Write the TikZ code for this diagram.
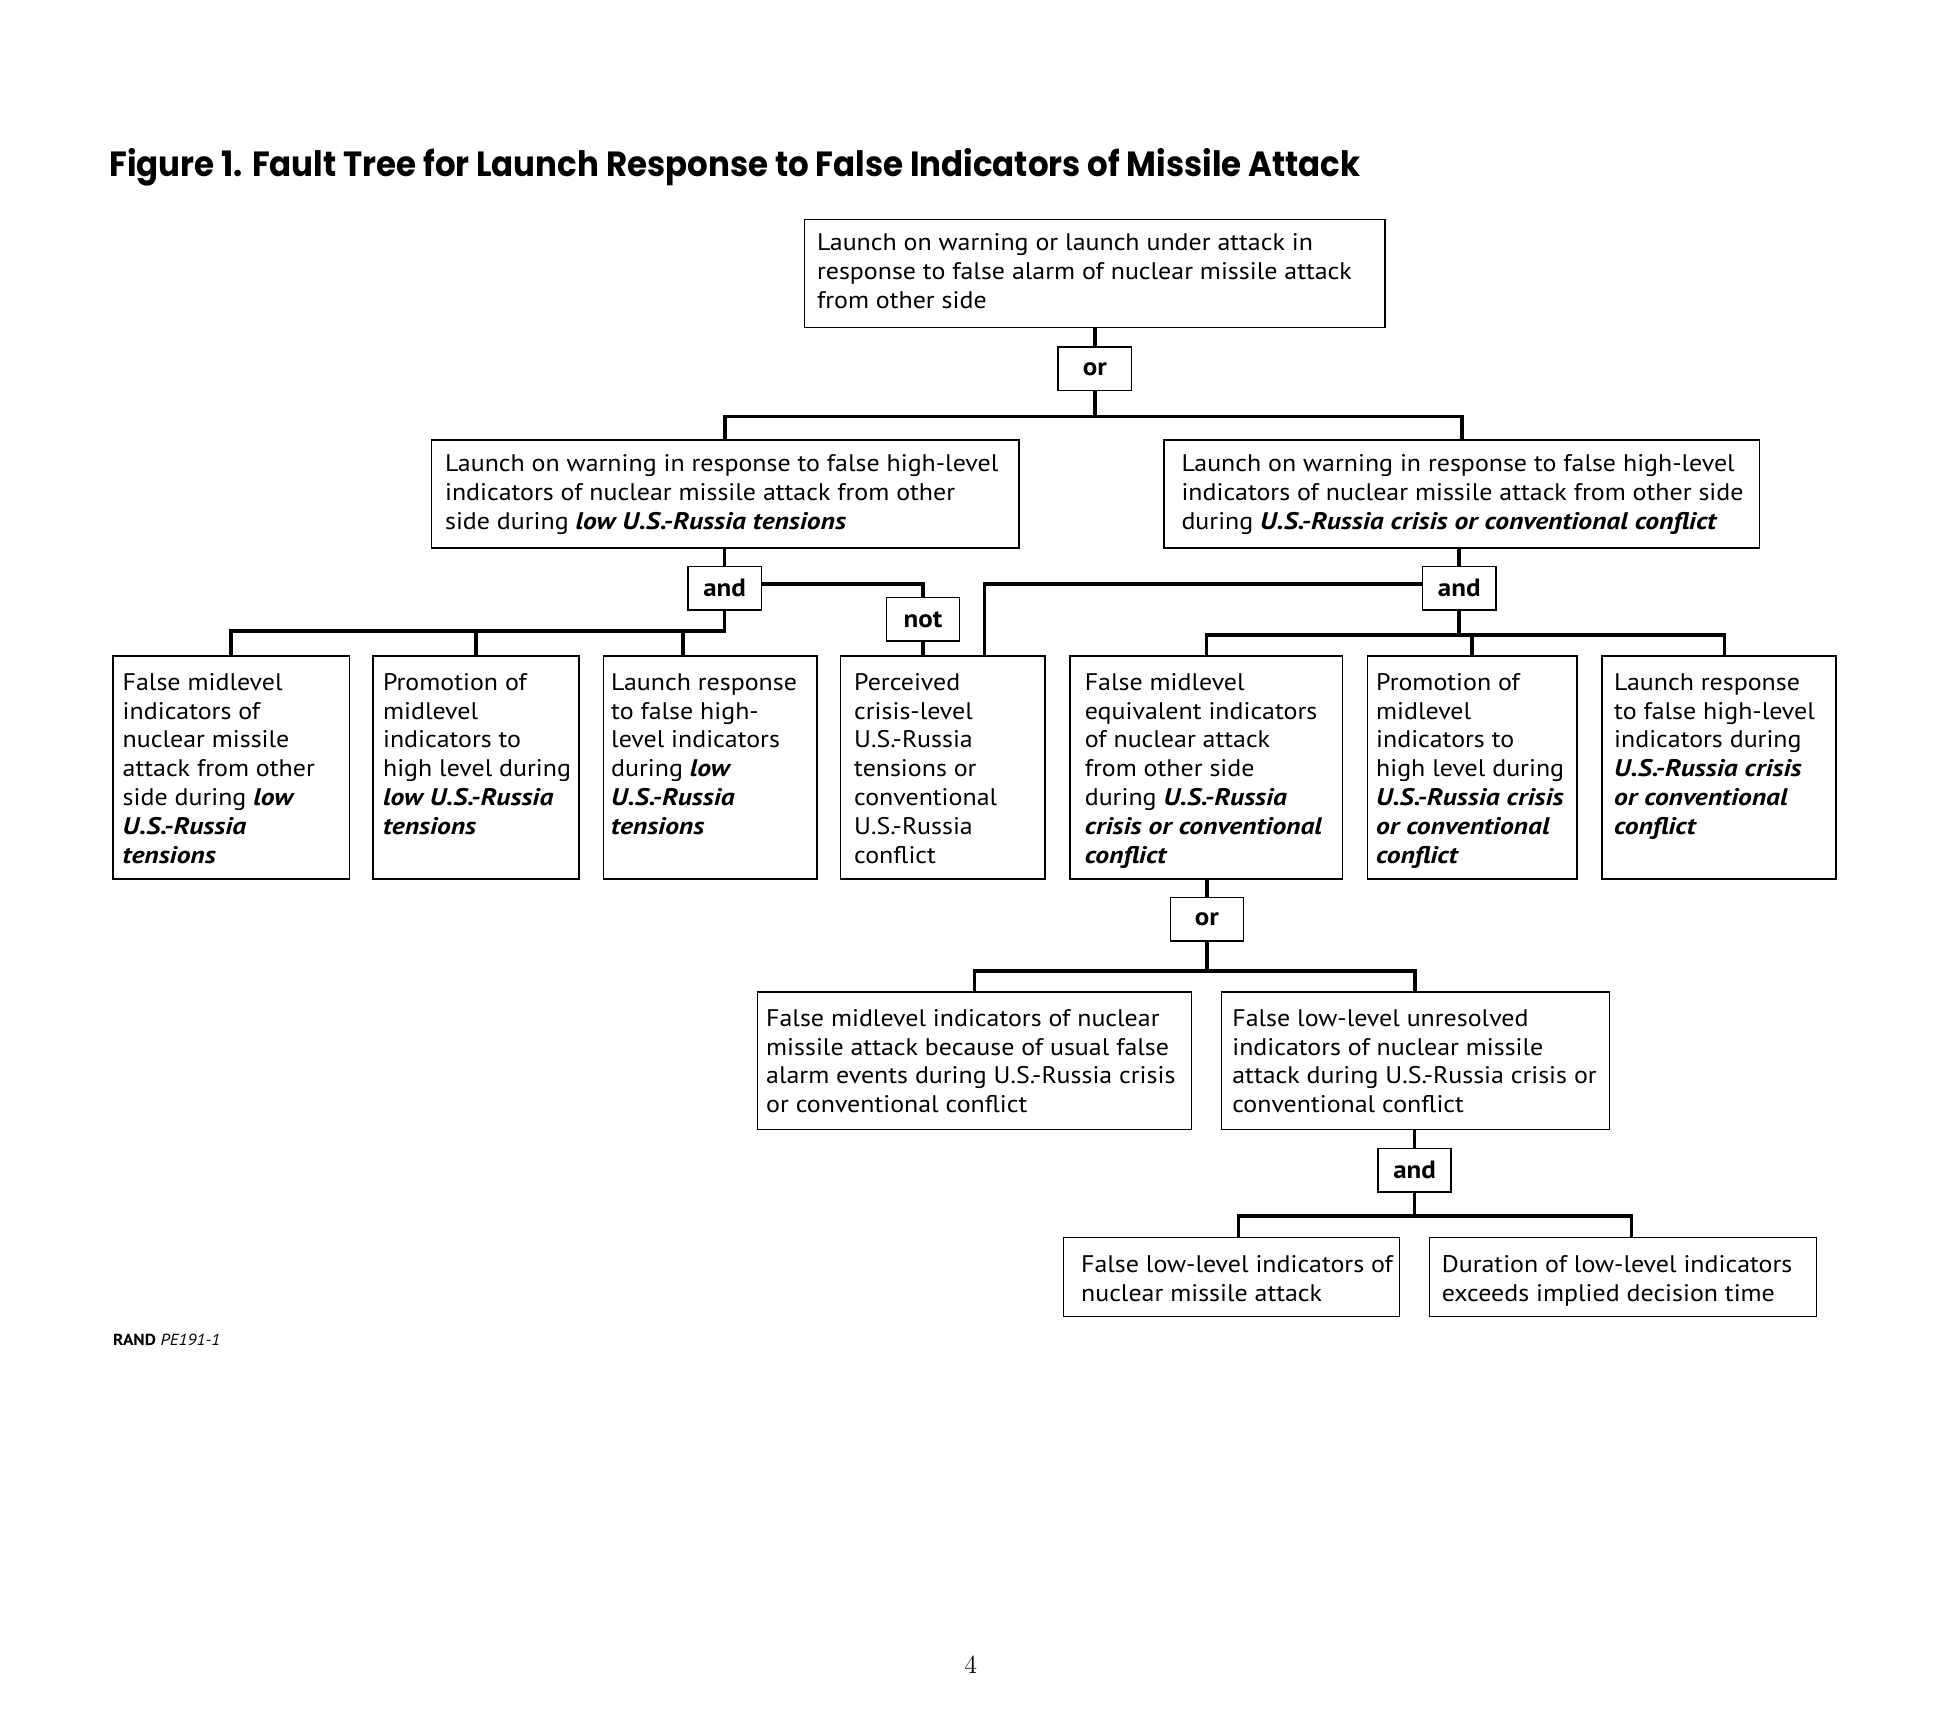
\documentclass[tikz,border=0pt]{standalone}
\usepackage{fontspec}
\usepackage{graphicx}
\usetikzlibrary{calc}
\newfontfamily\boxfont{PT Sans}[FakeStretch=1.08]
\newfontfamily\bifont{PT Sans Bold Italic}[FakeStretch=1.15]
\newfontfamily\titlefont{Poppins}
\newcommand\bi[1]{{\bifont #1}}
\newdimen\fbW \newdimen\fbH \newdimen\fbP \newdimen\fbT
\def\padtop{11.5}
\newcommand\fbx[7][8]{%
  \pgfmathsetlength\fbW{(#5-#3-2*#1)*0.6199pt}%
  \pgfmathsetlength\fbH{(#6-#4-2*\padtop)*0.6199pt}%
  \pgfmathsetlength\fbP{#1*0.6199pt}%
  \pgfmathsetlength\fbT{\padtop*0.6199pt}%
  \node[fbox, inner xsep=\fbP, inner ysep=\fbT, anchor=north west] (#2) at (#3,#4)
    {\parbox[t][\fbH][t]{\fbW}{\begin{tabular}[t]{@{}l@{}}#7\end{tabular}}};}
\begin{document}
\begin{tikzpicture}[x=0.6199pt, y=-0.6199pt,
  fbox/.style={draw, line width=0.7pt, outer sep=0pt,
    font=\boxfont\fontsize{12}{14.4}\selectfont},
  gate/.style={draw, line width=0.7pt, outer sep=0pt, minimum width=36.57pt,
    minimum height=21.7pt, inner sep=0pt,
    font=\boxfont\bfseries\fontsize{12.5}{14}\selectfont},
  conn/.style={line width=1.8pt}]
\useasboundingbox (0,0) rectangle (1568,1394);
\fill[white] (0,0) rectangle (1568,1394);

% title
\node[anchor=base west, inner sep=0pt] (title) at (88,142)
  {\resizebox{625.5pt}{\height}{\titlefont\bfseries\fontsize{17.5}{20}\selectfont Figure 1. Fault Tree for Launch Response to False Indicators of Missile Attack}};

% level 1
\def\padtop{9}
\fbx[10]{top}{649}{177}{1117}{264}{Launch on warning or launch under attack in\\ response to false alarm of nuclear missile attack\\ from other side}
\node[gate] (gor1) at (883,297.5) {or};

% level 2
\fbx[11]{la}{348}{355}{822}{442}{Launch on warning in response to false high-level\\ indicators of nuclear missile attack from other\\ side during \bi{low U.S.-Russia tensions}}
\fbx[14]{lb}{939}{355}{1419}{442}{Launch on warning in response to false high-level\\ indicators of nuclear missile attack from other side\\ during \bi{U.S.-Russia crisis or conventional conflict}}
\node[gate] (gand1) at (584.5,474.5) {and};
\node[gate] (gnot) at (744.5,499.5) {not};
\node[gate] (gand2) at (1177,474.5) {and};

% level 3
\def\padtop{11.5}
\fbx[8]{b1}{91}{529}{282}{709}{False midlevel\\ indicators of\\ nuclear missile\\ attack from other\\ side during \bi{low}\\ \bi{U.S.-Russia}\\ \bi{tensions}}
\fbx[8]{b2}{301}{529}{467}{709}{Promotion of\\ midlevel\\ indicators to\\ high level during\\ \bi{low U.S.-Russia}\\ \bi{tensions}}
\fbx[6]{b3}{487}{529}{659}{709}{Launch response\\ to false high-\\ level indicators\\ during \bi{low}\\ \bi{U.S.-Russia}\\ \bi{tensions}}
\fbx[11]{b4}{678}{529}{843}{709}{Perceived\\ crisis-level\\ U.S.-Russia\\ tensions or\\ conventional\\ U.S.-Russia\\ conflict}
\fbx[12]{b5}{863}{529}{1083}{709}{False midlevel\\ equivalent indicators\\ of nuclear attack\\ from other side\\ during \bi{U.S.-Russia}\\ \bi{crisis or conventional}\\ \bi{conflict}}
\fbx[7]{b6}{1103}{529}{1272}{709}{Promotion of\\ midlevel\\ indicators to\\ high level during\\ \bi{U.S.-Russia crisis}\\ \bi{or conventional}\\ \bi{conflict}}
\fbx[10]{b7}{1292}{529}{1481}{709}{Launch response\\ to false high-level\\ indicators during\\ \bi{U.S.-Russia crisis}\\ \bi{or conventional}\\ \bi{conflict}}
\node[gate] (gor2) at (973.5,741.5) {or};

% level 4
\fbx[7]{c1}{611}{800}{961}{911}{False midlevel indicators of nuclear\\ missile attack because of usual false\\ alarm events during U.S.-Russia crisis\\ or conventional conflict}
\fbx[9]{c2}{985}{800}{1298}{911}{False low-level unresolved\\ indicators of nuclear missile\\ attack during U.S.-Russia crisis or\\ conventional conflict}
\node[gate] (gand3) at (1141,944) {and};

% level 5
\def\padtop{12}
\fbx[14]{d1}{858}{998}{1129}{1062}{False low-level indicators of\\ nuclear missile attack}
\fbx[10]{d2}{1153}{998}{1465}{1062}{Duration of low-level indicators\\ exceeds implied decision time}

% footer
\node[anchor=base west, inner sep=0pt, font=\boxfont\fontsize{8}{9.5}\selectfont] (rand) at (91,1085) {\textbf{RAND} \textit{PE191-1}};
\node[anchor=base, inner sep=0pt, font=\fontsize{13}{15}\selectfont] (pgno) at (783,1350) {4};

% bar levels
\coordinate (y336) at (0,336);
\coordinate (y509) at (0,509);
\coordinate (y512) at (0,512);
\coordinate (y783) at (0,783);
\coordinate (y981) at (0,981);
\coordinate (b3in) at ($(b3.north west)+(64,0)$);
\coordinate (b4in) at ($(b4.north west)+(116,0)$);
\coordinate (b7in) at ($(b7.north west)+(99,0)$);
\coordinate (d1in) at ($(d1.north west)+(141,0)$);
\coordinate (d2in) at ($(d2.north west)+(163,0)$);

% connectors
\draw[conn] (gor1.north |- top.south) -- (gor1.north);
\draw[conn] (la.north) -- (la.north |- y336) -- (lb.north |- y336) -- (lb.north);
\draw[conn] (gor1.south) -- (gor1.south |- y336);

\draw[conn] (gand1.north |- la.south) -- (gand1.north);
\draw[conn] (b1.north) -- (b1.north |- y509) -- (gand1.south |- y509) -- (gand1.south);
\draw[conn] (b2.north) -- (b2.north |- y509);
\draw[conn] (b3in) -- (b3in |- y509);
\draw[conn] ($(gand1.east)+(0,-3.5)$) -| (gnot.north);
\draw[conn] (gnot.south) -- (gnot.south |- b4.north);

\draw[conn] (gand2.north |- lb.south) -- (gand2.north);
\draw[conn] ($(gand2.west)+(0,-3.5)$) -| (b4in);
\draw[conn] (b5.north) -- (b5.north |- y512) -- (b7in |- y512) -- (b7in);
\draw[conn] (b6.north) -- (b6.north |- y512);
\draw[conn] (gand2.south) -- (gand2.south |- y512);

\draw[conn] (gor2.north |- b5.south) -- (gor2.north);
\draw[conn] (c1.north) -- (c1.north |- y783) -- (c2.north |- y783) -- (c2.north);
\draw[conn] (gor2.south) -- (gor2.south |- y783);

\draw[conn] (gand3.north |- c2.south) -- (gand3.north);
\draw[conn] (d1in) -- (d1in |- y981) -- (d2in |- y981) -- (d2in);
\draw[conn] (gand3.south) -- (gand3.south |- y981);
\end{tikzpicture}
\end{document}
